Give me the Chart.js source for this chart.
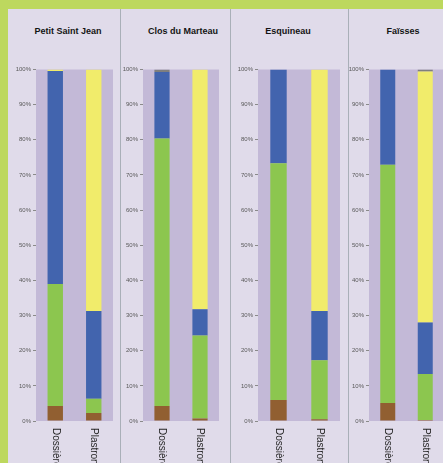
<!DOCTYPE html>
<html>
<head>
<meta charset="utf-8">
<script src="https://cdn.jsdelivr.net/npm/chart.js@4"></script>
<style>
  html, body { margin:0; padding:0; }
  body { width:443px; height:463px; overflow:hidden; position:relative; background:#e0dbea; }
  .bt { position:absolute; left:0; top:0; width:443px; height:9px; background:#bdd85e; }
  .bl { position:absolute; left:0; top:0; width:8px; height:463px; background:#bdd85e; }
  .sep { position:absolute; top:9px; width:1px; height:454px; background:#a9afb8; }
  .ttl { position:absolute; top:26px; font:bold 9px "Liberation Sans", Arial, sans-serif; color:#141414; white-space:nowrap; transform:translateX(-50%); }
  canvas { position:absolute; top:60px; }
</style>
</head>
<body>
<div class="bt"></div>
<div class="bl"></div>
<div class="sep" style="left:120px"></div>
<div class="sep" style="left:230px"></div>
<div class="sep" style="left:348px"></div>
<div class="ttl" id="t0" style="left:68px"></div>
<div class="ttl" id="t1" style="left:183px"></div>
<div class="ttl" id="t2" style="left:288px"></div>
<div class="ttl" id="t3" style="left:403px"></div>
<canvas id="c0" width="107" height="403" style="left:6px;width:107px;height:403px"></canvas>
<canvas id="c1" width="106" height="403" style="left:113px;width:106px;height:403px"></canvas>
<canvas id="c2" width="112" height="403" style="left:228px;width:112px;height:403px"></canvas>
<canvas id="c3" width="105" height="403" style="left:339px;width:105px;height:403px"></canvas>
<script>
// ---- data (percent of total), per site: [Dossière, Plastron] ----
const sites = ['Petit Saint Jean', 'Clos du Marteau', 'Esquineau', 'Faïsses'];
const categories = ['Dossière', 'Plastron'];
const brown  = [[4.3, 2.3], [4.3, 0.7], [6.0, 0.5], [5.1, 0.3]];
const green  = [[34.7, 4.0], [76.1, 23.6], [67.3, 16.8], [67.8, 13.1]];
const blue   = [[60.6, 25.0], [18.9, 7.5], [26.7, 14.0], [27.1, 14.6]];
const yellow = [[0.4, 68.7], [0.0, 68.2], [0.0, 68.7], [0.0, 71.4]];
const grey   = [[0.0, 0.0], [0.7, 0.0], [0.0, 0.0], [0.0, 0.6]];
const seriesNames = ['Série 1', 'Série 2', 'Série 3', 'Série 4', 'Série 5'];

// ---- styles ----
const colors = ['#915f31', '#8cc64f', '#4264ae', '#f1ec6b', '#7f7f7f'];
const plotBg = '#c3b9d7';

const bgPlugin = {
  id: 'plotBg',
  beforeDraw(chart) {
    const a = chart.chartArea, ctx = chart.ctx;
    ctx.save();
    ctx.fillStyle = plotBg;
    ctx.fillRect(a.left, a.top, a.right - a.left, a.bottom - a.top);
    ctx.restore();
  }
};
const xLabelPlugin = {
  id: 'xLabels',
  afterDraw(chart) {
    const xs = chart.scales.x, ctx = chart.ctx;
    chart.data.labels.forEach((lab, i) => {
      const x = xs.getPixelForValue(i);
      ctx.save();
      ctx.translate(x, chart.chartArea.bottom + 7);
      ctx.rotate(Math.PI / 2);
      ctx.font = '10px "Liberation Sans", Arial, sans-serif';
      ctx.fillStyle = '#262626';
      ctx.textAlign = 'left';
      ctx.textBaseline = 'middle';
      ctx.fillText(lab, 0, 0);
      ctx.restore();
    });
  }
};

const series = [brown, green, blue, yellow, grey];
sites.forEach((site, s) => {
  document.getElementById('t' + s).textContent = site;
  new Chart(document.getElementById('c' + s), {
    type: 'bar',
    data: {
      labels: categories,
      datasets: series.map((arr, k) => ({
        label: seriesNames[k],
        data: arr[s],
        backgroundColor: colors[k],
        borderWidth: 0,
        barPercentage: 0.4,
        categoryPercentage: 1.0
      }))
    },
    options: {
      responsive: false,
      animation: false,
      devicePixelRatio: 1,
      layout: { padding: { top: 9.5, right: 0, left: 0, bottom: 0 } },
      plugins: { legend: { display: false }, tooltip: { enabled: false }, title: { display: false } },
      scales: {
        x: {
          stacked: true,
          grid: { display: false },
          border: { display: false },
          ticks: { display: false },
          afterFit(sc) { sc.height = 42; }
        },
        y: {
          stacked: true,
          min: 0, max: 100,
          afterFit(sc) { sc.width = 30; },
          grid: { drawOnChartArea: false, drawTicks: true, tickLength: 3, color: '#8a8a8a' },
          border: { display: false },
          ticks: {
            stepSize: 10,
            padding: 2,
            color: '#595959',
            font: { size: 6, family: '"Liberation Sans", Arial, sans-serif' },
            callback: v => v + '%'
          }
        }
      }
    },
    plugins: [bgPlugin, xLabelPlugin]
  });
});
</script>
</body>
</html>
